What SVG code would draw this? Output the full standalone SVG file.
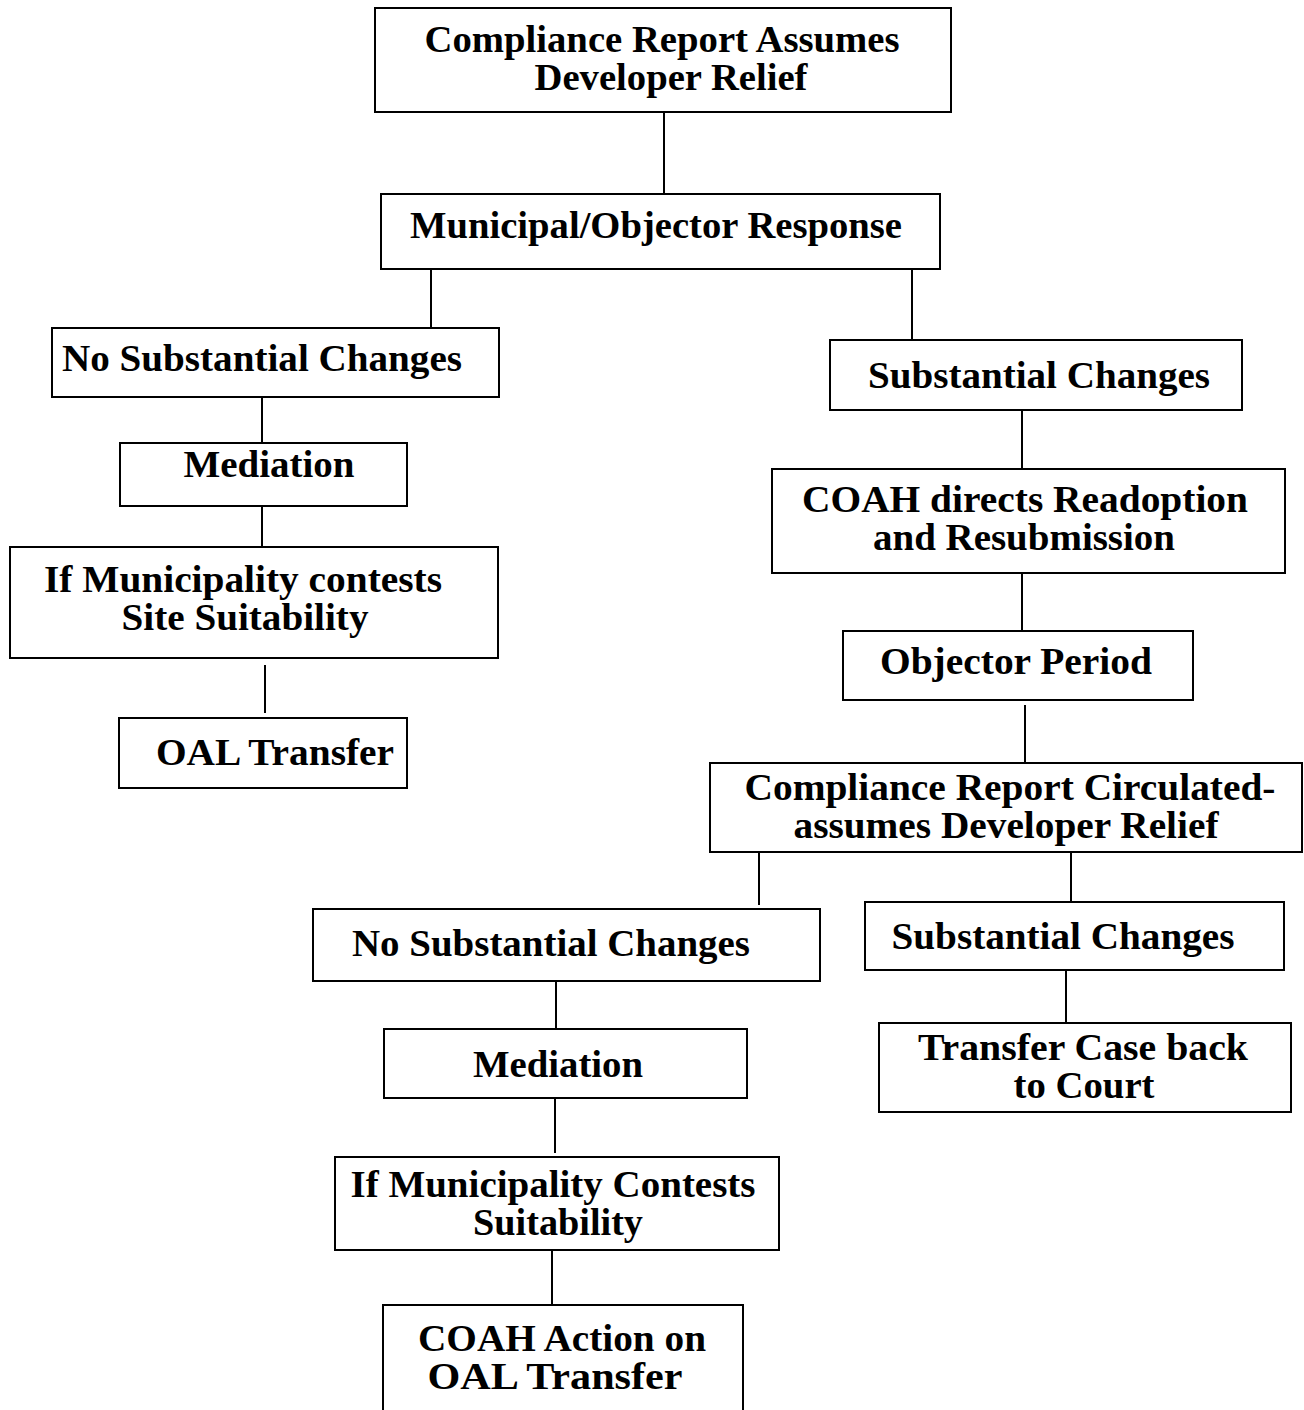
<svg xmlns="http://www.w3.org/2000/svg" width="1304" height="1410" viewBox="0 0 1304 1410">
<style>
.b{fill:#fff;stroke:#000;stroke-width:2}
.c{stroke:#000;stroke-width:2;fill:none}
text{font-family:"Liberation Serif","Times New Roman",serif;font-weight:bold;font-size:38px;fill:#000;text-anchor:middle}
</style>
<rect width="1304" height="1410" fill="#fff"/>
<g id="connectors">
<line class="c" x1="664" y1="112" x2="664" y2="194"/>
<line class="c" x1="431" y1="269" x2="431" y2="328"/>
<line class="c" x1="912" y1="269" x2="912" y2="340"/>
<line class="c" x1="262" y1="397" x2="262" y2="443"/>
<line class="c" x1="262" y1="506" x2="262" y2="547"/>
<line class="c" x1="265" y1="665" x2="265" y2="713"/>
<line class="c" x1="1022" y1="410" x2="1022" y2="469"/>
<line class="c" x1="1022" y1="573" x2="1022" y2="631"/>
<line class="c" x1="1025" y1="705" x2="1025" y2="763"/>
<line class="c" x1="759" y1="852" x2="759" y2="905"/>
<line class="c" x1="1071" y1="852" x2="1071" y2="902"/>
<line class="c" x1="556" y1="981" x2="556" y2="1029"/>
<line class="c" x1="1066" y1="970" x2="1066" y2="1023"/>
<line class="c" x1="555" y1="1098" x2="555" y2="1153"/>
<line class="c" x1="552" y1="1250" x2="552" y2="1305"/>
</g>
<g id="n1"><rect class="b" x="375" y="8" width="576" height="104"/>
<text x="662" y="52" textLength="475" lengthAdjust="spacingAndGlyphs">Compliance Report Assumes</text>
<text x="671" y="90" textLength="273" lengthAdjust="spacingAndGlyphs">Developer Relief</text></g>
<g id="n2"><rect class="b" x="381" y="194" width="559" height="75"/>
<text x="656" y="238" textLength="492" lengthAdjust="spacingAndGlyphs">Municipal/Objector Response</text></g>
<g id="n3"><rect class="b" x="52" y="328" width="447" height="69"/>
<text x="262" y="371" textLength="400" lengthAdjust="spacingAndGlyphs">No Substantial Changes</text></g>
<g id="n4"><rect class="b" x="830" y="340" width="412" height="70"/>
<text x="1039" y="388" textLength="342" lengthAdjust="spacingAndGlyphs">Substantial Changes</text></g>
<g id="n5"><rect class="b" x="120" y="443" width="287" height="63"/>
<text x="269" y="477" textLength="171" lengthAdjust="spacingAndGlyphs">Mediation</text></g>
<g id="n6"><rect class="b" x="10" y="547" width="488" height="111"/>
<text x="243" y="592" textLength="398" lengthAdjust="spacingAndGlyphs">If Municipality contests</text>
<text x="245" y="630" textLength="247" lengthAdjust="spacingAndGlyphs">Site Suitability</text></g>
<g id="n7"><rect class="b" x="119" y="718" width="288" height="70"/>
<text x="275" y="765" textLength="238" lengthAdjust="spacingAndGlyphs">OAL Transfer</text></g>
<g id="n8"><rect class="b" x="772" y="469" width="513" height="104"/>
<text x="1025" y="512" textLength="446" lengthAdjust="spacingAndGlyphs">COAH directs Readoption</text>
<text x="1024" y="550" textLength="302" lengthAdjust="spacingAndGlyphs">and Resubmission</text></g>
<g id="n9"><rect class="b" x="843" y="631" width="350" height="69"/>
<text x="1016" y="674" textLength="272" lengthAdjust="spacingAndGlyphs">Objector Period</text></g>
<g id="n10"><rect class="b" x="710" y="763" width="592" height="89"/>
<text x="1010" y="800" textLength="531" lengthAdjust="spacingAndGlyphs">Compliance Report Circulated-</text>
<text x="1006" y="838" textLength="425" lengthAdjust="spacingAndGlyphs">assumes Developer Relief</text></g>
<g id="n11"><rect class="b" x="313" y="909" width="507" height="72"/>
<text x="551" y="956" textLength="398" lengthAdjust="spacingAndGlyphs">No Substantial Changes</text></g>
<g id="n12"><rect class="b" x="865" y="902" width="419" height="68"/>
<text x="1063" y="949" textLength="343" lengthAdjust="spacingAndGlyphs">Substantial Changes</text></g>
<g id="n13"><rect class="b" x="384" y="1029" width="363" height="69"/>
<text x="558" y="1077" textLength="170" lengthAdjust="spacingAndGlyphs">Mediation</text></g>
<g id="n14"><rect class="b" x="879" y="1023" width="412" height="89"/>
<text x="1083" y="1060" textLength="330" lengthAdjust="spacingAndGlyphs">Transfer Case back</text>
<text x="1084" y="1098" textLength="141" lengthAdjust="spacingAndGlyphs">to Court</text></g>
<g id="n15"><rect class="b" x="335" y="1157" width="444" height="93"/>
<text x="553" y="1197" textLength="405" lengthAdjust="spacingAndGlyphs">If Municipality Contests</text>
<text x="558" y="1235" textLength="170" lengthAdjust="spacingAndGlyphs">Suitability</text></g>
<g id="n16"><rect class="b" x="383" y="1305" width="360" height="120"/>
<text x="562" y="1351" textLength="288" lengthAdjust="spacingAndGlyphs">COAH Action on</text>
<text x="555" y="1389" textLength="255" lengthAdjust="spacingAndGlyphs">OAL Transfer</text></g>
</svg>
